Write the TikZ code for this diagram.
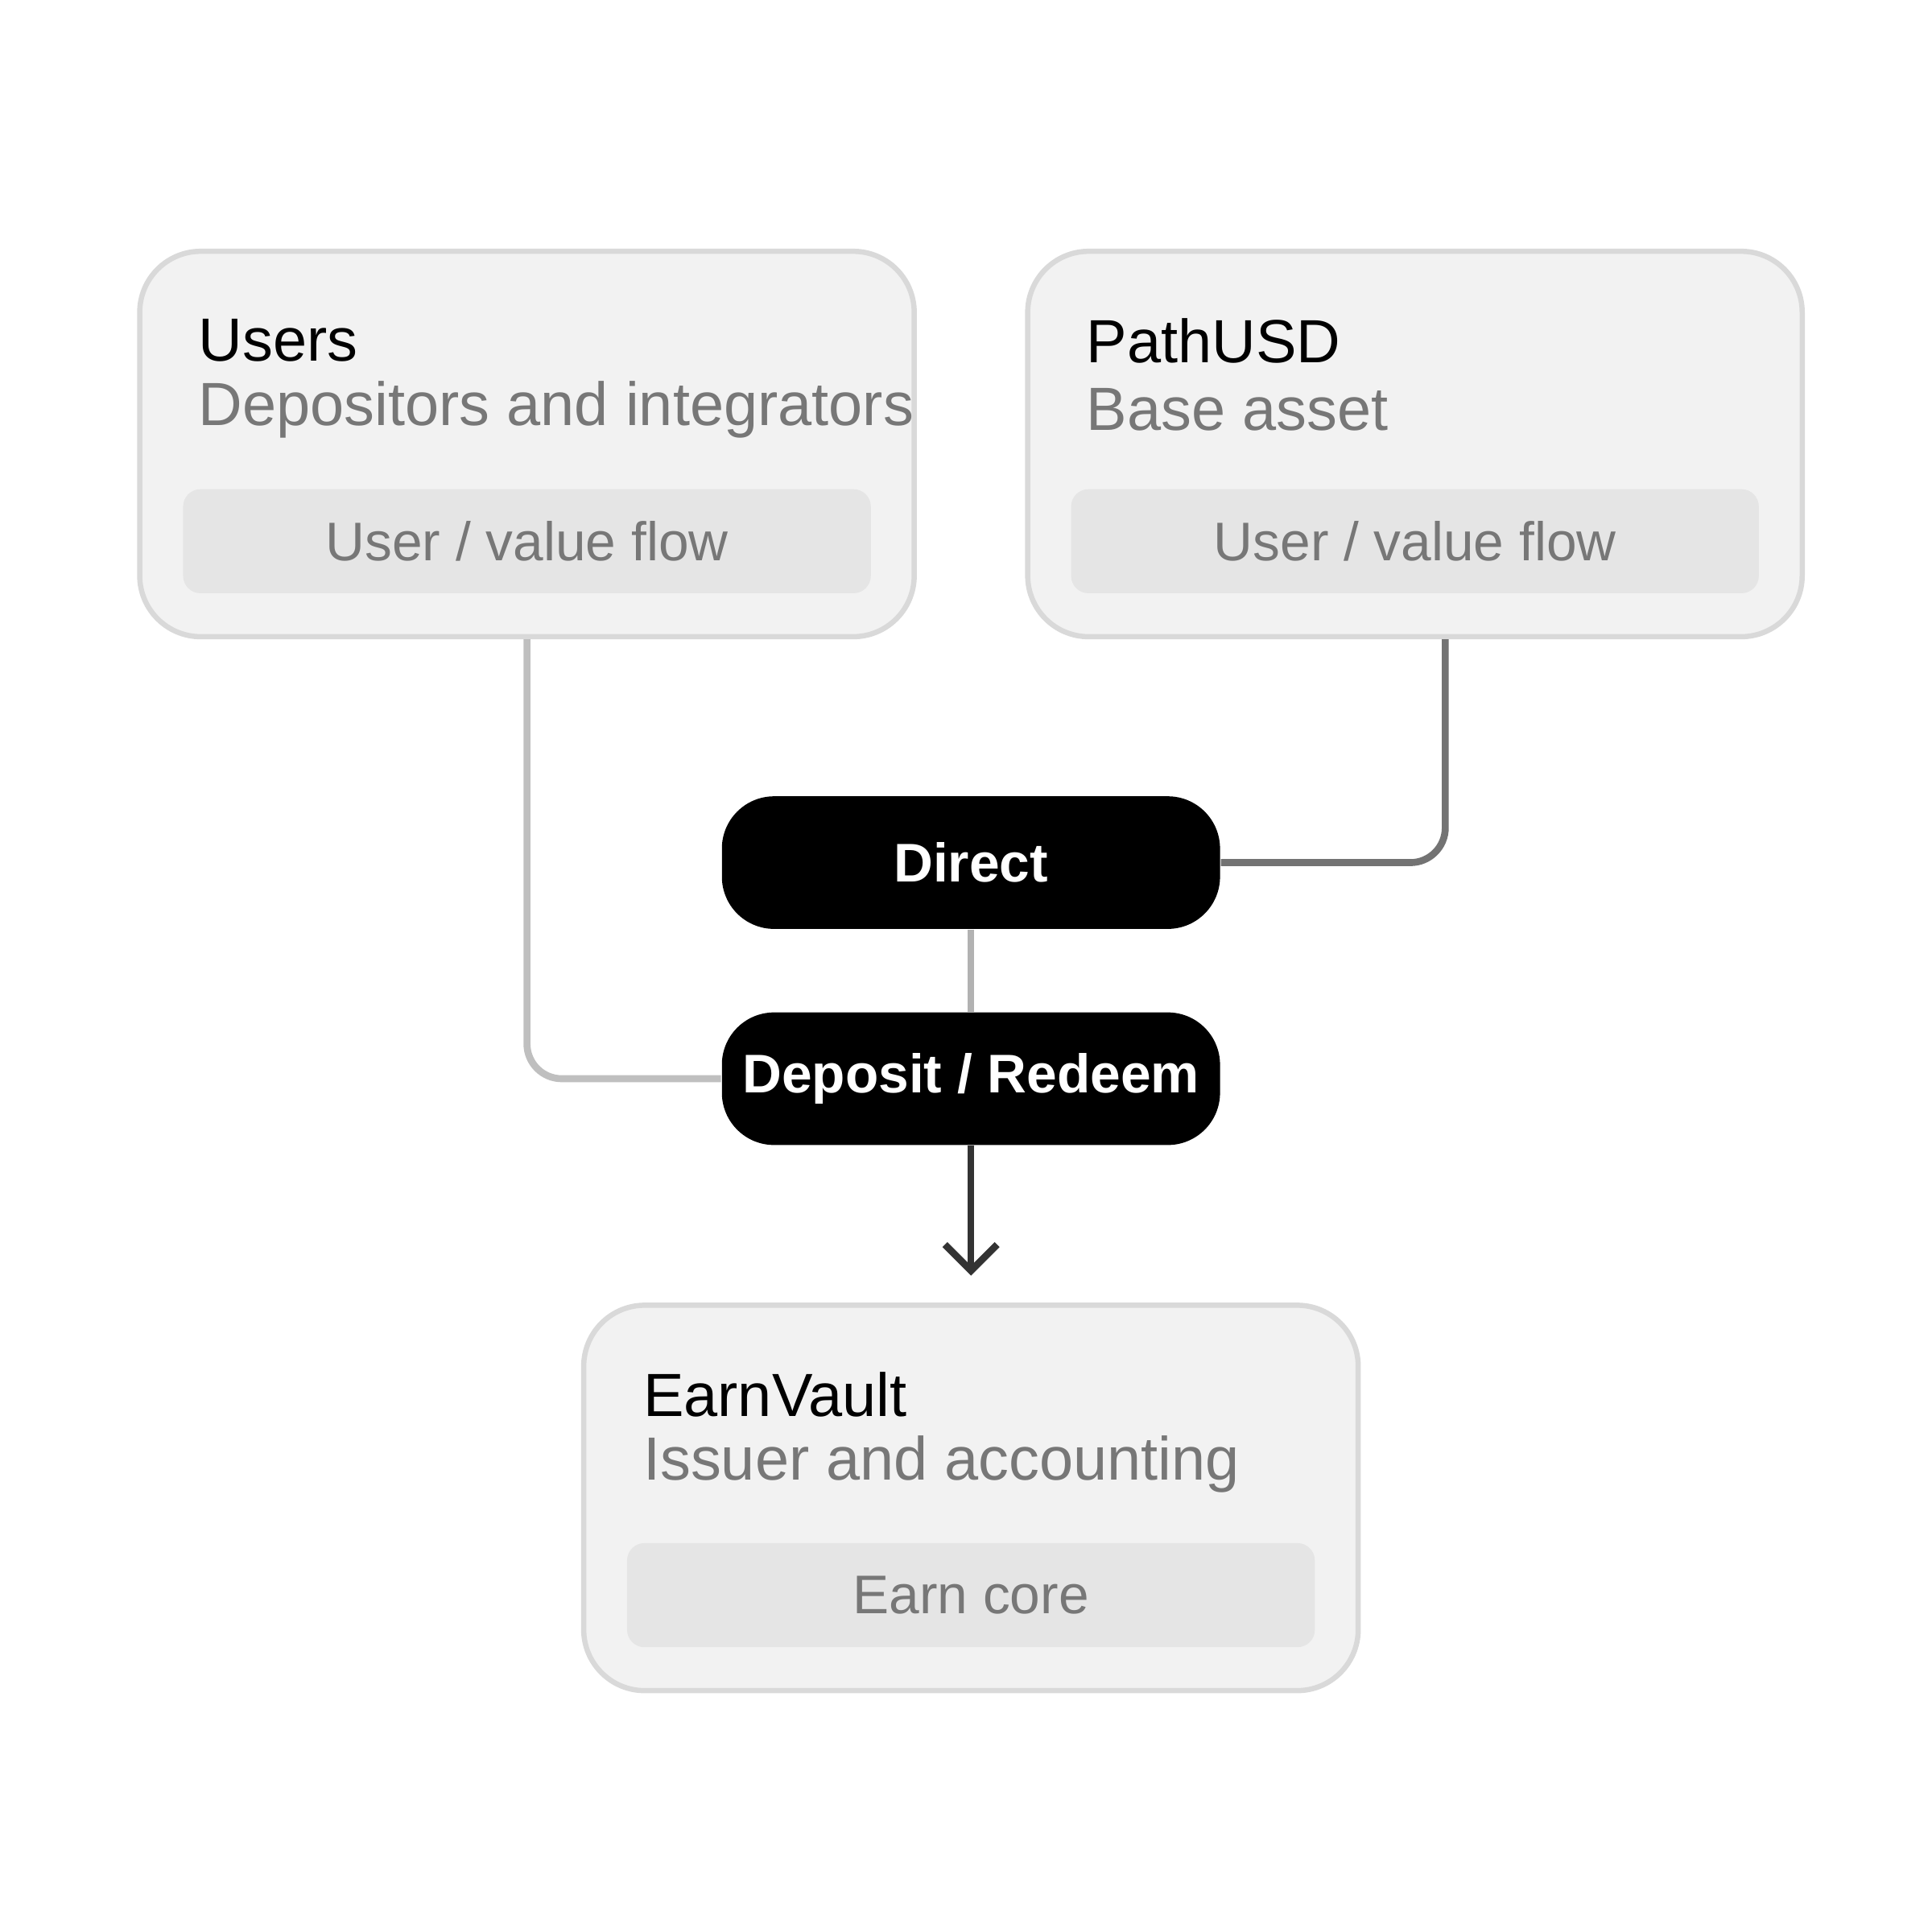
\documentclass[tikz,border=0pt]{standalone}
\usepackage{fontspec}
\setmainfont{Liberation Sans}
\usetikzlibrary{positioning, calc, arrows.meta}
\definecolor{boxfill}{HTML}{F2F2F2}
\definecolor{boxline}{HTML}{D9D9D9}
\definecolor{barfill}{HTML}{E5E5E5}
\definecolor{subgray}{HTML}{777777}
\tikzset{
  panel/.style={rectangle, rounded corners=14pt, draw=boxline, line width=1.2pt, fill=boxfill, minimum width=6.25cm, minimum height=3.11cm},
  bar/.style={rectangle, rounded corners=4pt, fill=barfill, minimum width=5.55cm, minimum height=0.84cm, text=subgray, font=\fontsize{12.5}{14}\selectfont},
  title/.style={anchor=west, font=\fontsize{14}{16}\selectfont},
  sub/.style={anchor=west, text=subgray, font=\fontsize{14}{16}\selectfont},
  stage/.style={rectangle, rounded corners=12pt, fill=black, text=white, minimum width=4.02cm, minimum height=1.07cm, font=\bfseries\fontsize{12.5}{14}\selectfont},
  link/.style={line width=1.6pt, rounded corners=8pt}
}
\begin{document}
\begin{tikzpicture}[x=0.01cm, y=-0.01cm]
      \useasboundingbox (0,0) rectangle (1560,1560);

      % Panels
      \node[panel] (users) at (425.5,358.5) {};
      \node[panel] (path) at (1142.5,358.5) {};
      \node[panel] (vault) at (784,1209.5) {};

      % Panel texts
      \node[title] (usersT) at (148,275) {Users};
      \node[sub] (usersS) at (148,331) {Depositors and integrators};
      \node[bar] (usersB) at (425.5,437) {User / value flow};
      \node[title] (pathT) at (865,275) {PathUSD};
      \node[sub] (pathS) at (865,331) {Base asset};
      \node[bar] (pathB) at (1142.5,437) {User / value flow};
      \node[title] (vaultT) at (507,1126) {EarnVault};
      \node[sub] (vaultS) at (507,1182) {Issuer and accounting};
      \node[bar] (vaultB) at (784,1288) {Earn core};

      % Stages
      \node[stage] (direct) at (784,696.5) {Direct};
      \node[stage] (deposit) at (784,871) {Deposit / Redeem};

      % Connectors
      \draw[link, black!25] (users.south) |- (deposit.west);
      \draw[link, black!55] (path.south -| 1167,0) |- (direct.east);
      \draw[link, black!30] (direct) -- (deposit);
      \coordinate (tip) at (784,1030);
      \draw[link, black!80, -{Straight Barb[length=6pt, width=12pt]}] (deposit) -- (tip);
\end{tikzpicture}
\end{document}
